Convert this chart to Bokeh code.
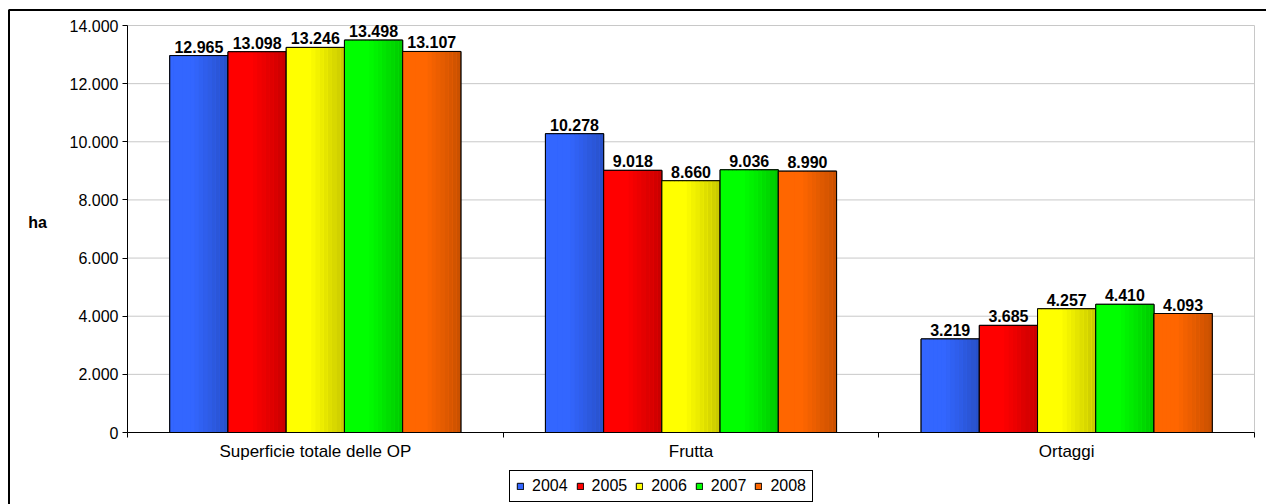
from bokeh.plotting import figure
from bokeh.models import (Range1d, FixedTicker, ColumnDataSource, Legend, LegendItem,
                          BoxAnnotation, Label)
from bokeh.core.properties import value
from bokeh.embed import file_html
from bokeh.resources import INLINE

categories = ["Superficie totale delle OP", "Frutta", "Ortaggi"]
years = ["2004", "2005", "2006", "2007", "2008"]
v2004 = [12965, 10278, 3219]
v2005 = [13098, 9018, 3685]
v2006 = [13246, 8660, 4257]
v2007 = [13498, 9036, 4410]
v2008 = [13107, 8990, 4093]
series = [v2004, v2005, v2006, v2007, v2008]
colors = [(51, 102, 255), (255, 0, 0), (255, 255, 0), (0, 255, 0), (255, 102, 0)]
y_ticks = list(range(0, 14001, 2000))
Y_MAX = 14000

FONT = "Liberation Sans"
BAR_W = 0.155
N_STRIPS = 14

# canvas layout (pixels): plot area spans x 127..1254, y 25..432
W, H = 1266, 504
PX_L, PX_R, PX_T, PX_B = 127, 1254, 25, 432
ncat = len(categories)
kx = (PX_R - PX_L) / ncat          # px per category
ky = (PX_B - PX_T) / Y_MAX          # px per hectare


def sx(px):
    return (px - PX_L) / kx


def sy(py):
    return (PX_B - py) / ky


def hexc(rgb, f=1.0):
    return "#%02x%02x%02x" % tuple(max(0, min(255, int(round(c * f)))) for c in rgb)


def shade(t):
    # flat on the left, darkening towards the right edge of the bar
    return 1.0 if t < 0.4 else 1.0 - (t - 0.4) / 0.6 * 0.22


def it_num(v):
    return "{:,}".format(v).replace(",", ".")


p = figure(width=W, height=H, output_backend="svg", toolbar_location=None,
           x_range=Range1d(sx(0), sx(W)), y_range=Range1d(sy(H), sy(0)),
           min_border=0)
p.background_fill_color = "white"
p.border_fill_color = "white"
p.outline_line_color = None

# axes drawn inside the canvas at the origin
p.yaxis.fixed_location = 0
p.yaxis.bounds = (0, Y_MAX)
p.yaxis.ticker = FixedTicker(ticks=y_ticks)
p.yaxis.major_label_overrides = {t: it_num(t) for t in y_ticks}
p.yaxis.major_label_text_font = FONT
p.yaxis.major_label_text_font_size = "16px"
p.yaxis.major_label_text_color = "black"
p.yaxis.major_tick_out = 5
p.yaxis.major_tick_in = 0
p.yaxis.minor_tick_out = 0
p.yaxis.minor_tick_in = 0
p.yaxis.axis_line_color = "black"
p.yaxis.major_tick_line_color = "black"
p.yaxis.major_label_standoff = 4

p.xaxis.fixed_location = 0
p.xaxis.bounds = (0, ncat)
p.xaxis.ticker = FixedTicker(ticks=[i + 0.5 for i in range(ncat)],
                             minor_ticks=list(range(ncat + 1)))
p.xaxis.major_label_overrides = {i + 0.5: c for i, c in enumerate(categories)}
p.xaxis.major_label_text_font = FONT
p.xaxis.major_label_text_font_size = "17px"
p.xaxis.major_label_text_color = "black"
p.xaxis.major_tick_out = 0
p.xaxis.major_tick_in = 0
p.xaxis.minor_tick_out = 5
p.xaxis.minor_tick_in = 0
p.xaxis.minor_tick_line_color = "black"
p.xaxis.axis_line_color = "black"
p.xaxis.major_label_standoff = 4

p.xgrid.visible = False
p.ygrid.visible = False

# horizontal gridlines and the grey plot-area edge on the right
p.segment(x0=[0] * (len(y_ticks) - 1), x1=[ncat] * (len(y_ticks) - 1),
          y0=y_ticks[1:], y1=y_ticks[1:], line_color="#c8c8c8", line_width=1)
p.segment(x0=[ncat], x1=[ncat], y0=[0], y1=[Y_MAX], line_color="#c8c8c8", line_width=1)

legend_items = []
for j, (year, vals, rgb) in enumerate(zip(years, series, colors)):
    centers = [i + 0.5 + (j - 2) * BAR_W for i in range(ncat)]
    left = [c - BAR_W / 2 for c in centers]
    right = [c + BAR_W / 2 for c in centers]
    src = ColumnDataSource(dict(left=left, right=right, top=vals, bottom=[0] * len(vals),
                                x=centers, label=[it_num(v) for v in vals]))
    base = p.quad(left="left", right="right", top="top", bottom="bottom", source=src,
                  fill_color=hexc(rgb), line_color="black", line_width=1)
    legend_items.append(LegendItem(label=year, renderers=[base]))
    # horizontal shading across each bar
    for k in range(N_STRIPS):
        t0, t1 = k / N_STRIPS, (k + 1) / N_STRIPS
        f = shade((t0 + t1) / 2)
        p.quad(left=[l + t0 * BAR_W for l in left], right=[l + t1 * BAR_W for l in left],
               top=vals, bottom=[0] * len(vals),
               fill_color=hexc(rgb, f), line_color=None)
    p.quad(left="left", right="right", top="top", bottom="bottom", source=src,
           fill_alpha=0, line_color="black", line_width=1)
    p.text(x="x", y="top", text="label", source=src, text_align="center",
           text_baseline="bottom", y_offset=-3, text_font=value(FONT),
           text_font_style="bold", text_font_size="16px", text_color="black")

legend = Legend(items=legend_items, orientation="horizontal", location=(509, 2),
                glyph_width=8, glyph_height=8, label_standoff=8, spacing=8,
                padding=6, margin=0, label_text_font=FONT, label_text_font_size="16px",
                label_text_color="black",
                label_height=18, border_line_color="black", border_line_width=1,
                border_line_alpha=1,
                background_fill_color="white", background_fill_alpha=1)
p.add_layout(legend, "center")

p.add_layout(Label(x=sx(37), y=sy(222), text="ha", text_font=FONT, text_font_style="bold",
                   text_font_size="16px", text_color="black",
                   text_align="center", text_baseline="middle"))

# outer chart box (top and left edges fall inside the canvas)
p.add_layout(BoxAnnotation(left=sx(8.5), right=sx(W + 20), top=sy(9.5), bottom=sy(H + 20),
                           fill_alpha=0, line_color="black", line_alpha=1, line_width=2))

open("out.html", "w").write(file_html(p, INLINE))
